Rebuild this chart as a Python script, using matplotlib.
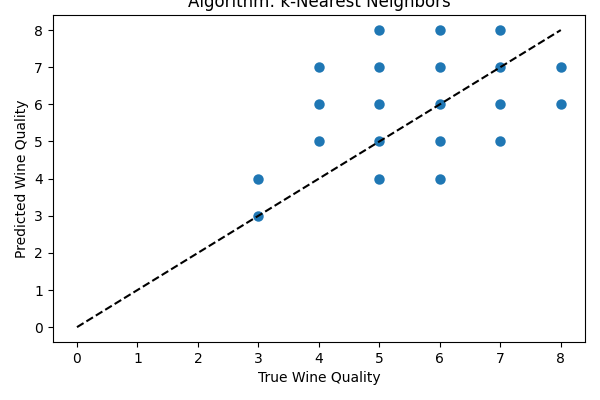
import matplotlib
matplotlib.use('Agg')
import matplotlib.pyplot as plt

# predicted vs true quality pairs
true_q = [3, 3, 4, 4, 4, 5, 5, 5, 5, 5, 6, 6, 6, 6, 6, 7, 7, 7, 7, 8, 8]
pred_q = [3, 4, 5, 6, 7, 4, 5, 6, 7, 8, 4, 5, 6, 7, 8, 5, 6, 7, 8, 6, 7]
line_x = [0, 8]
line_y = [0, 8]


def main():
    fig, ax = plt.subplots(figsize=(6, 4), dpi=100)
    ax.scatter(true_q, pred_q, linewidths=1.5, edgecolors='#1f77b4')
    ax.plot(line_x, line_y, 'k--')
    ax.set_xlabel('True Wine Quality')
    ax.set_ylabel('Predicted Wine Quality')
    ax.set_title('Algorithm: k-Nearest Neighbors')
    fig.subplots_adjust(left=0.088, right=0.975, bottom=0.145, top=0.962)
    fig.savefig('out.png')


if __name__ == '__main__':
    main()
